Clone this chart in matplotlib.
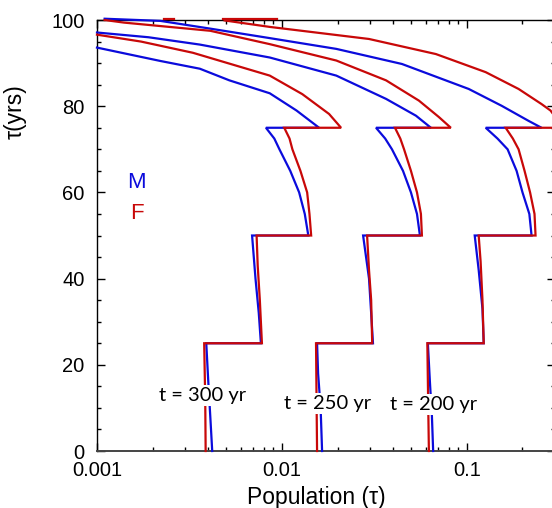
import matplotlib
matplotlib.use("Agg")
import matplotlib.pyplot as plt
from matplotlib.ticker import LogLocator, MultipleLocator, FixedFormatter, FixedLocator

# age (yrs) and population for each snapshot, M = males, F = females
age_300_m = [0, 8, 16, 25, 25, 32, 40, 50, 50, 55, 60, 65, 70, 72.5, 75, 75, 79, 83, 86, 88.7, 90.5, 93.6]
pop_300_m = [0.0042, 0.0041, 0.0040, 0.0039, 0.0077, 0.0075, 0.0072, 0.0069, 0.0139, 0.0133, 0.0124, 0.0111,
             0.0097, 0.0091, 0.0082, 0.0159, 0.0120, 0.0086, 0.0052, 0.0036, 0.0022, 0.0010]
age_300_f = [0, 12, 25, 25, 35, 43, 50, 50, 55, 60, 65, 70, 72.5, 75, 75, 78.2, 82.8, 87.1, 92.4, 95, 96.6]
pop_300_f = [0.00387, 0.00385, 0.0038, 0.0078, 0.0076, 0.0074, 0.0073, 0.0144, 0.0141, 0.0137, 0.0126, 0.0114,
             0.0110, 0.0103, 0.0209, 0.0180, 0.0129, 0.0086, 0.0033, 0.00173, 0.0010]

age_250_m = [0, 10, 18, 25, 25, 32, 40, 50, 50, 55, 60, 65, 70, 72.5, 75, 75, 77.8, 81.7, 87.1, 91.3, 94.3, 96.0, 97.1]
pop_250_m = [0.0165, 0.0162, 0.0157, 0.0155, 0.0311, 0.0304, 0.0296, 0.0275, 0.0558, 0.0538, 0.0499, 0.0452,
             0.0394, 0.0362, 0.0323, 0.0640, 0.0531, 0.0366, 0.0197, 0.0086, 0.0036, 0.0019, 0.0010]
age_250_f = [0, 12, 25, 25, 35, 42, 50, 50, 55, 60, 65, 70, 72.5, 75, 75, 77.5, 81.3, 86, 90.6, 94.4, 97.5, 99.4, 100]
pop_250_f = [0.0155, 0.0154, 0.0153, 0.0308, 0.0304, 0.0296, 0.0289, 0.0572, 0.0565, 0.0538, 0.0499, 0.0458,
             0.0437, 0.0409, 0.0820, 0.0706, 0.0551, 0.0366, 0.0197, 0.0086, 0.0041, 0.0014, 0.0011]

age_200_m = [0, 8, 16, 25, 25, 33, 42, 50, 50, 55, 60, 65, 70, 72.5, 75, 75, 76.6, 80.1, 84, 89.8, 93.3, 95.8,
             98, 99.8, 100.3]
pop_200_m = [0.0658, 0.0648, 0.0632, 0.0616, 0.1235, 0.1216, 0.1160, 0.1104, 0.2241, 0.2180, 0.2002, 0.1860,
             0.1663, 0.1466, 0.1266, 0.2537, 0.2159, 0.1544, 0.1025, 0.0446, 0.0197, 0.0086, 0.0041, 0.0022, 0.0011]
age_200_f = [0, 12, 25, 25, 35, 44, 50, 50, 55, 60, 65, 70, 72.5, 75, 75, 79, 80.5, 84, 87.9, 92.1, 95.6, 98.4, 99.9]
pop_200_f = [0.0624, 0.0618, 0.0612, 0.1235, 0.1216, 0.1188, 0.1160, 0.2355, 0.2325, 0.2200, 0.2054, 0.1907,
             0.1775, 0.1623, 0.333, 0.2837, 0.2537, 0.1907, 0.1266, 0.0681, 0.0296, 0.0086, 0.0049]

# short female pieces sitting on the age-100 boundary
top_age = 100.3
top_f_pieces = [(0.0023, 0.0026), (0.0048, 0.0094)]

# snapshot labels: text, population, age
snap_labels = ["t = 300 yr", "t = 250 yr", "t = 200 yr"]
snap_pop = [0.00373, 0.0176, 0.0664]
snap_age = [12.8, 11.1, 10.7]

blue = "#0b0bdc"
red = "#c80808"

plt.rcParams["font.family"] = ["Liberation Sans", "DejaVu Sans"]

fig = plt.figure(figsize=(5.52, 5.08), dpi=100)
ax = fig.add_axes([0.1757, 0.1122, 0.8297, 0.8484])

male = [(age_300_m, pop_300_m), (age_250_m, pop_250_m), (age_200_m, pop_200_m)]
female = [(age_300_f, pop_300_f), (age_250_f, pop_250_f), (age_200_f, pop_200_f)]

for a, p in male:
    ax.plot(p, a, color=blue, lw=1.6, zorder=3, clip_on=False, solid_joinstyle="miter")
for a, p in female:
    ax.plot(p, a, color=red, lw=1.6, zorder=3.1, clip_on=False, solid_joinstyle="miter")
for x0, x1 in top_f_pieces:
    ax.plot([x0, x1], [top_age, top_age], color=red, lw=1.6, zorder=3.1, clip_on=False)

for txt, x, y in zip(snap_labels, snap_pop, snap_age):
    ax.text(x, y, txt, ha="center", va="center", fontsize=14.5, family=["Lato", "DejaVu Sans"],
            zorder=5, bbox=dict(facecolor="white", edgecolor="none", pad=1.5))

ax.text(0.00164, 62.4, "M", color=blue, fontsize=16, ha="center", va="center")
ax.text(0.00164, 55.2, "F", color=red, fontsize=16, ha="center", va="center")

ax.set_xscale("log")
ax.set_xlim(0.001, 0.3)
ax.set_ylim(0, 100)

ax.xaxis.set_major_locator(FixedLocator([0.001, 0.01, 0.1]))
ax.xaxis.set_major_formatter(FixedFormatter(["0.001", "0.01", "0.1"]))
ax.xaxis.set_minor_locator(LogLocator(base=10, subs=range(2, 10)))
ax.yaxis.set_major_locator(MultipleLocator(20))
ax.yaxis.set_minor_locator(MultipleLocator(5))

ax.tick_params(which="both", direction="in", top=True, right=True, width=1.0, labelsize=14.5)
ax.tick_params(which="major", length=6)
ax.tick_params(which="minor", length=3)
ax.tick_params(axis="x", pad=7)
ax.tick_params(axis="y", pad=9)

for s in ax.spines.values():
    s.set_linewidth(1.0)
ax.spines["bottom"].set_color("#444444")
ax.spines["bottom"].set_linewidth(1.4)

ax.set_xlabel("Population (\u03c4)", fontsize=16.5)
ax.xaxis.set_label_coords(0.478, -0.082)
ax.set_ylabel("\u03c4(yrs)", fontsize=16.5)
ax.yaxis.set_label_coords(-0.153, 0.787)

fig.savefig("out.png", dpi=100)
